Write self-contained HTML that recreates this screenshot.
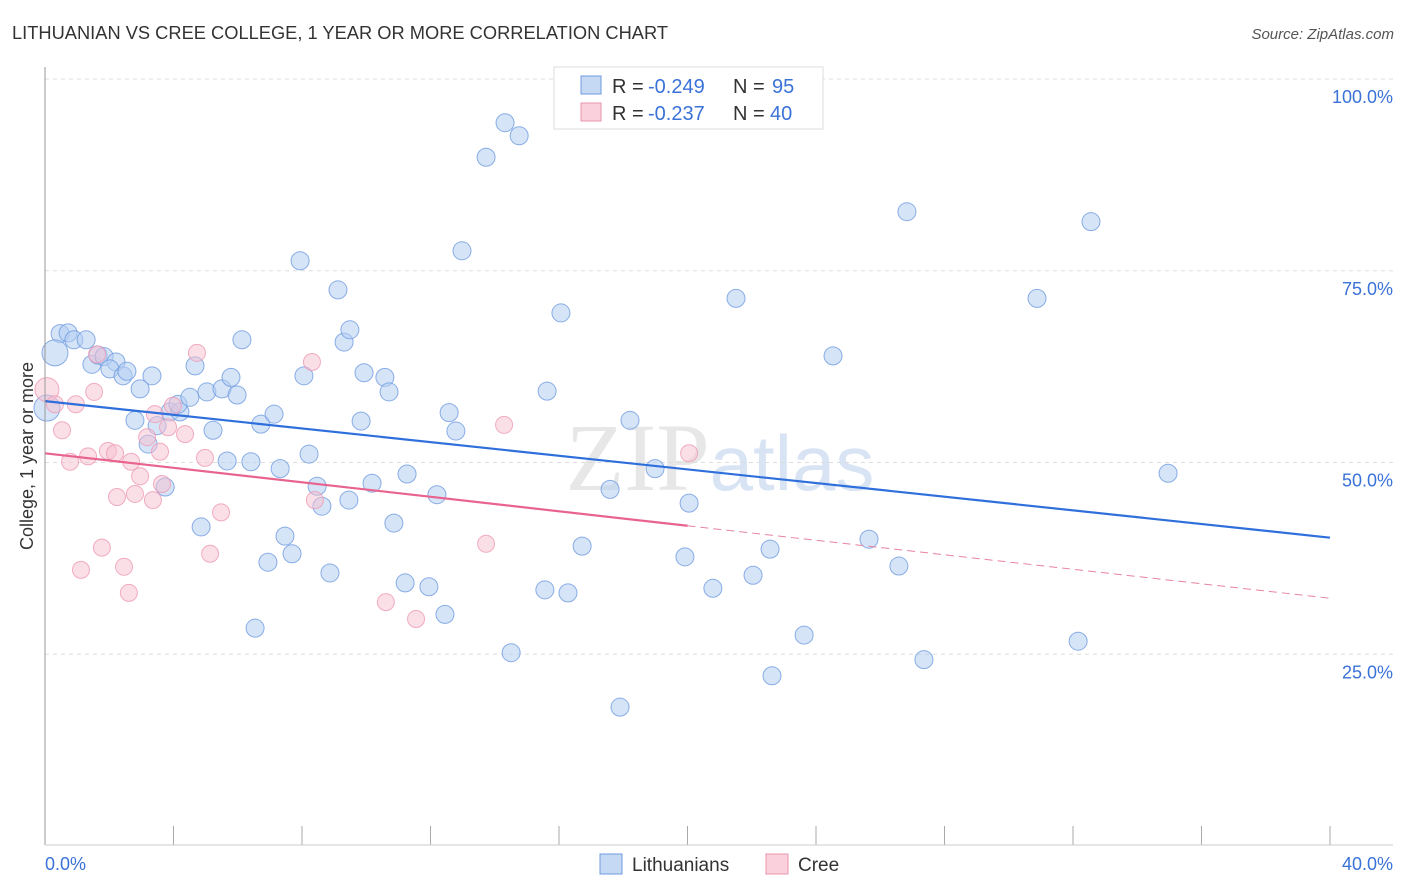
<!DOCTYPE html>
<html><head><meta charset="utf-8"><style>
body{margin:0;background:#fff;font-family:"Liberation Sans",sans-serif;}
svg{display:block}
</style></head><body>
<svg id="c" width="1406" height="892" xmlns="http://www.w3.org/2000/svg">
<text x="12" y="39" font-size="18" fill="#333" textLength="656" lengthAdjust="spacingAndGlyphs">LITHUANIAN VS CREE COLLEGE, 1 YEAR OR MORE CORRELATION CHART</text>
<text x="1394" y="39" font-size="15" fill="#555" font-style="italic" text-anchor="end">Source: ZipAtlas.com</text>
<text x="720" y="490" font-size="96" fill="#ccc" opacity="0.45" text-anchor="middle" font-family="Liberation Serif,serif">ZIP<tspan fill="#aac4e8" font-family="Liberation Sans,sans-serif" font-size="78">atlas</tspan></text>
<g id="grid"></g><g id="marks"></g>
<line x1="45" y1="67" x2="45" y2="845" stroke="#999"/>
<line x1="45" y1="845" x2="1393" y2="845" stroke="#ccc"/>
<text x="33" y="456" font-size="18" fill="#333" text-anchor="middle" transform="rotate(-90 33 456)">College, 1 year or more</text>
<text x="45" y="870" font-size="18" fill="#3a72d8">0.0%</text>
<text x="1393" y="870" font-size="18" fill="#3a72d8" text-anchor="end">40.0%</text>
<g>
<rect x="554" y="67" width="269" height="62" fill="#fff" stroke="#ddd"/>
<rect x="581" y="76" width="20" height="18" fill="#c5d9f5" stroke="#6f9be0"/>
<rect x="581" y="103" width="20" height="18" fill="#fad0dc" stroke="#eb93ad"/>
<text y="93" font-size="20" fill="#333"><tspan x="612">R =</tspan><tspan x="648" fill="#3a72d8">-0.249</tspan><tspan x="733">N =</tspan><tspan x="772" fill="#3a72d8">95</tspan></text>
<text y="120" font-size="20" fill="#333"><tspan x="612">R =</tspan><tspan x="648" fill="#3a72d8">-0.237</tspan><tspan x="733">N =</tspan><tspan x="770" fill="#3a72d8">40</tspan></text>
</g>
<g>
<rect x="600" y="854" width="22" height="20" fill="#c5d9f5" stroke="#6f9be0"/>
<text x="632" y="871" font-size="19" fill="#333">Lithuanians</text>
<rect x="766" y="854" width="22" height="20" fill="#fad0dc" stroke="#eb93ad"/>
<text x="798" y="871" font-size="19" fill="#333">Cree</text>
</g>
</svg>
<script>
const yTicks=[25,50,75,100];
const yTickLabels=["25.0%","50.0%","75.0%","100.0%"];
const xTicks=[4,8,12,16,20,24,28,32,36,40];
const lithX=[0.47,0.72,0.90,1.28,0.31,1.46,1.65,1.84,2.21,2.02,2.43,2.55,3.33,2.96,2.80,3.21,3.49,3.74,3.89,4.20,4.14,4.51,4.67,5.04,5.23,4.86,5.51,5.67,5.79,5.98,6.13,6.41,6.54,6.72,6.94,7.13,7.32,7.47,7.69,7.94,8.06,8.22,8.47,8.62,8.87,9.12,9.31,9.49,9.46,9.84,9.93,10.18,10.58,10.71,10.86,11.21,11.27,11.95,12.20,12.45,12.58,12.79,12.98,13.73,14.32,14.76,14.51,15.56,15.63,16.06,16.28,16.72,17.59,17.90,18.21,18.99,19.92,20.05,20.79,21.51,22.04,22.57,22.63,23.63,24.53,25.65,26.58,26.83,27.36,30.88,32.16,32.56,34.96,0.06];
const lithY=[66.8,66.9,66.0,66.0,64.3,62.8,64.0,63.8,63.1,62.2,61.3,61.9,61.3,59.6,55.5,52.4,54.8,46.8,56.6,56.6,57.6,58.5,62.6,59.2,54.2,41.6,59.6,50.2,61.1,58.8,66.0,50.1,28.4,55.0,37.0,56.3,49.2,40.4,38.1,76.3,61.3,51.1,46.9,44.3,35.6,72.5,65.7,67.3,45.1,55.4,61.7,47.3,61.1,59.2,42.1,34.3,48.5,33.8,45.8,30.2,56.5,54.1,77.6,89.8,94.3,92.6,25.2,33.4,59.3,69.5,33.0,39.1,46.5,18.1,55.5,49.2,37.7,44.7,33.6,71.4,35.3,38.7,22.2,27.5,63.9,40.0,36.5,82.7,24.3,71.4,26.7,81.4,48.6,57.1];
const creeX=[0.06,0.31,0.53,0.78,0.96,1.12,1.34,1.53,1.62,1.77,1.96,2.18,2.24,2.46,2.61,2.68,2.80,2.96,3.18,3.36,3.42,3.58,3.64,3.83,3.98,4.36,4.73,4.98,5.14,5.48,8.31,8.40,10.61,11.55,13.73,14.29,20.05];
const creeY=[59.5,57.6,54.2,50.1,57.6,36.0,50.8,59.2,64.1,38.9,51.5,51.2,45.5,36.4,33.0,50.1,45.9,48.2,53.3,45.1,56.3,51.4,47.2,54.6,57.4,53.7,64.3,50.6,38.1,43.5,63.1,45.1,31.8,29.6,39.4,54.9,51.2];
const lithTrend=[58.0,40.2];
const creeTrend=[51.2,32.3];
const NS='http://www.w3.org/2000/svg';
const sx=v=>45+v/40*1285;
const sy=v=>846-v*7.67;
function mk(t,a,p){const e=document.createElementNS(NS,t);for(const k in a)e.setAttribute(k,a[k]);p.appendChild(e);return e;}
const grid=document.getElementById('grid'),marks=document.getElementById('marks'),svg=document.getElementById('c');
yTicks.forEach((t,i)=>{
 const l=mk('line',{x1:45,x2:1393,y1:sy(t),y2:sy(t),stroke:'#ddd','stroke-dasharray':'4,4'},grid);
 
 
 const tx=mk('text',{x:1393,y:sy(t)+24,'font-size':18,fill:'#3a72d8','text-anchor':'end'},svg);
 tx.textContent=yTickLabels[i];
 
 
});
xTicks.forEach(t=>{
 const l=mk('line',{x1:sx(t),x2:sx(t),y1:826,y2:845,stroke:'#aaa'},grid);
 
 
});
lithX.forEach((x,i)=>{
 const c=mk('circle',{cx:sx(x),cy:sy(lithY[i]),r:(i===4||i===lithX.length-1)?13:9,fill:'#b4cdf2',"fill-opacity":0.55,stroke:'#6f9be0','stroke-width':1,'stroke-opacity':0.8},marks);
 
 
});
creeX.forEach((x,i)=>{
 const c=mk('circle',{cx:sx(x),cy:sy(creeY[i]),r:i===0?12:8.5,fill:'#f8c0d0',"fill-opacity":0.5,stroke:'#ee9ab3','stroke-width':1,'stroke-opacity':0.8},marks);
 
 
});
const bl=mk('line',{x1:sx(0),y1:sy(lithTrend[0]),x2:sx(40),y2:sy(lithTrend[1]),stroke:'#2f6fdc','stroke-width':2.2},marks);


const cm=creeTrend[0]+(creeTrend[1]-creeTrend[0])*0.5;
const pl=mk('line',{x1:sx(0),y1:sy(creeTrend[0]),x2:sx(20),y2:sy(cm),stroke:'#e8648f','stroke-width':2.2},marks);


const pd=mk('line',{x1:sx(20),y1:sy(cm),x2:sx(40),y2:sy(creeTrend[1]),stroke:'#e8849f','stroke-width':1,'stroke-dasharray':'8,5'},marks);


</script>
</body></html>
